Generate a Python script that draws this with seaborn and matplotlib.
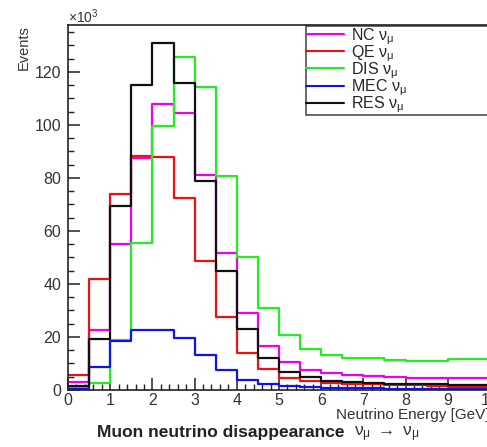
import numpy as np
import pandas as pd
import matplotlib
matplotlib.use("Agg")
import matplotlib.pyplot as plt
from matplotlib.ticker import MultipleLocator
from matplotlib.lines import Line2D
import seaborn as sns

# ---- data (events, in units of 10^3) ----
bin_edges = [0.0, 0.5, 1.0, 1.5, 2.0, 2.5, 3.0, 3.5, 4.0, 4.5, 5.0,
             5.5, 6.0, 6.5, 7.0, 7.5, 8.0, 8.5, 9.0, 9.5, 10.0]
nc_numu  = [3.0, 22.6, 55.0, 87.5, 108.0, 104.6, 81.0, 51.8, 29.0, 16.6,
            10.7, 7.5, 6.3, 5.7, 5.1, 5.0, 4.6, 4.5, 4.5, 4.4]
qe_numu  = [5.8, 42.0, 74.0, 88.3, 88.0, 72.4, 48.7, 27.7, 13.8, 7.8,
            4.6, 3.3, 2.7, 2.3, 2.1, 1.9, 1.7, 1.5, 1.3, 1.2]
dis_numu = [0.6, 2.8, 18.9, 55.5, 99.6, 125.8, 114.2, 80.9, 50.3, 30.8,
            20.7, 15.4, 13.3, 12.0, 11.9, 11.2, 11.1, 11.1, 11.6, 11.7]
mec_numu = [0.5, 8.7, 18.6, 22.6, 22.6, 19.5, 13.2, 7.5, 3.8, 2.4,
            1.5, 1.1, 0.9, 0.7, 0.6, 0.5, 0.5, 0.4, 0.4, 0.3]
res_numu = [1.5, 19.2, 69.4, 115.0, 131.0, 116.0, 79.0, 45.0, 23.0, 12.2,
            6.9, 4.8, 3.4, 2.9, 2.6, 2.4, 2.2, 2.1, 2.0, 1.9]
labels = [r"NC $\nu_{\mu}$", r"QE $\nu_{\mu}$", r"DIS $\nu_{\mu}$",
          r"MEC $\nu_{\mu}$", r"RES $\nu_{\mu}$"]
colors = ["#ee00ee", "#ee1111", "#22ee22", "#1111ee", "#111111"]

sns.set_style("ticks")
plt.rcParams["font.family"] = ["Liberation Sans", "DejaVu Sans"]
plt.rcParams["mathtext.fontset"] = "custom"
plt.rcParams["mathtext.rm"] = "Liberation Sans"
plt.rcParams["mathtext.it"] = "Liberation Sans"
plt.rcParams["mathtext.bf"] = "Liberation Sans:bold"

W, H = 487, 447
fig = plt.figure(figsize=(W / 100, H / 100), dpi=100)
ax = fig.add_axes([68 / W, 1 - 390 / H, (490 - 68) / W, (390 - 25) / H])

edges = np.array(bin_edges)
centers = (edges[:-1] + edges[1:]) / 2
for vals, lab, col in zip([nc_numu, qe_numu, dis_numu, mec_numu, res_numu], labels, colors):
    df = pd.DataFrame({"E": centers, "N": vals})
    sns.histplot(data=df, x="E", weights="N", bins=list(bin_edges), element="step",
                 fill=False, color=col, linewidth=1.6, ax=ax)

leg_handles = [Line2D([0], [0], color=c, lw=1.5) for c in colors]

ax.set_xlim(0, 10)
ax.set_ylim(0, 137.7)
ax.xaxis.set_major_locator(MultipleLocator(1))
ax.xaxis.set_minor_locator(MultipleLocator(0.2))
ax.yaxis.set_major_locator(MultipleLocator(20))
ax.yaxis.set_minor_locator(MultipleLocator(5))
ax.tick_params(axis="both", which="both", direction="in", colors="#222222",
               labelcolor="#333333", labelsize=11.5)
ax.tick_params(which="major", length=8.5, width=1.1)
ax.tick_params(which="minor", length=4.3, width=1.0)
ax.tick_params(axis="x", pad=2)
ax.tick_params(axis="y", pad=5)
for s in ax.spines.values():
    s.set_linewidth(1.2)
    s.set_color("#222222")

ax.set_ylabel("Events", fontsize=10.5, loc="top", color="#333333", labelpad=3)
ax.set_xlabel("Neutrino Energy [GeV]", fontsize=11, loc="right", color="#333333",
              labelpad=0)
ax.text(0, 0.998, r"$\times$10$^{3}$", transform=ax.transAxes, fontsize=10,
        color="#333333", ha="left", va="bottom")

leg = ax.legend(leg_handles, labels, loc="upper left", mode="expand",
                bbox_to_anchor=(306 / W, 1 - 116 / H, 0.5, 90 / H),
                bbox_transform=fig.transFigure, fontsize=11.5, frameon=True,
                fancybox=False, handlelength=2.4, handletextpad=0.4,
                labelspacing=-0.22, borderaxespad=0, borderpad=0.0)
leg.get_frame().set_edgecolor("#222222")
leg.get_frame().set_linewidth(1.2)

t1 = fig.text(97 / W, 1 - 432 / H, "Muon neutrino disappearance", fontsize=12.5,
              fontweight="bold", color="#222222", ha="left", va="center")
fig.canvas.draw()
bb = t1.get_window_extent()
fig.text((bb.x1 + 9) / W, 1 - 434 / H, r"$\nu_{\mu}$ $\rightarrow$ $\nu_{\mu}$",
         fontsize=12.5, color="#333333", ha="left", va="center")

fig.savefig("out.png", dpi=100)
